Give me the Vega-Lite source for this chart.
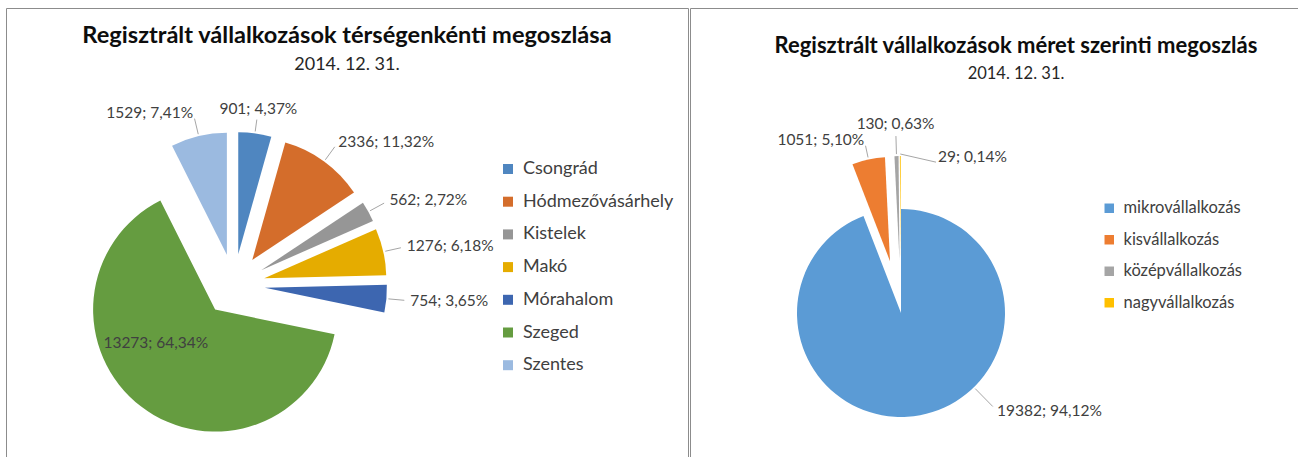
{
  "$schema": "https://vega.github.io/schema/vega-lite/v6.json",
  "padding": {"left": 5, "top": 7, "right": 0, "bottom": 0},
  "spacing": 0,
  "background": "white",
  "config": {
    "view": {"stroke": "#8c8c8c", "strokeWidth": 1},
    "font": "Lato",
    "text": {"font": "Lato", "fontSize": 15.5, "color": "#404040"}
  },
  "datasets": {
    "regions": [
      {"region": "Csongrád", "value": 901, "pct": 4.37},
      {"region": "Hódmezővásárhely", "value": 2336, "pct": 11.32},
      {"region": "Kistelek", "value": 562, "pct": 2.72},
      {"region": "Makó", "value": 1276, "pct": 6.18},
      {"region": "Mórahalom", "value": 754, "pct": 3.65},
      {"region": "Szeged", "value": 13273, "pct": 64.34},
      {"region": "Szentes", "value": 1529, "pct": 7.41}
    ],
    "sizes": [
      {"size": "mikrovállalkozás", "value": 19382, "pct": 94.12},
      {"size": "kisvállalkozás", "value": 1051, "pct": 5.10},
      {"size": "középvállalkozás", "value": 130, "pct": 0.63},
      {"size": "nagyvállalkozás", "value": 29, "pct": 0.14}
    ]
  },
  "resolve": {"scale": {"x": "independent", "y": "independent", "color": "independent"}, "legend": {"color": "independent"}},
  "hconcat": [
    {
      "width": 682,
      "height": 449,
      "title": {
        "text": "Regisztrált vállalkozások térségenkénti megoszlása",
        "subtitle": "2014. 12. 31.",
        "anchor": "middle",
        "offset": -66,
        "font": "Lato",
        "fontSize": 23.6,
        "fontWeight": "bold",
        "color": "#0d0d0d",
        "subtitleFont": "Lato",
        "subtitleFontSize": 18,
        "subtitleColor": "#262626",
        "subtitlePadding": 8
      },
      "data": {"name": "regions"},
      "transform": [
        {"window": [{"op": "sum", "field": "value", "as": "cum"}], "frame": [null, 0]},
        {"joinaggregate": [{"op": "sum", "field": "value", "as": "total"}]},
        {"calculate": "2*PI*(datum.cum-datum.value)/datum.total", "as": "a0"},
        {"calculate": "2*PI*datum.cum/datum.total", "as": "a1"},
        {"calculate": "(datum.a0+datum.a1)/2", "as": "mid"},
        {"calculate": "datum.value/datum.total>0.5", "as": "big"},
        {"calculate": "31*sin(datum.mid)", "as": "ox"},
        {"calculate": "-31*cos(datum.mid)", "as": "oy"},
        {"calculate": "datum.big?datum.a0+0.6*(datum.a1-datum.a0):datum.mid", "as": "lt"},
        {"calculate": "datum.big?'c':(sin(datum.lt)>0.3?'l':(sin(datum.lt)<-0.1?'r':'c'))", "as": "side"},
        {"calculate": "datum.big?68:(datum.side=='c'?147:146)", "as": "lr"},
        {"calculate": "datum.ox+datum.lr*sin(datum.lt)", "as": "lx"},
        {"calculate": "datum.oy-datum.lr*cos(datum.lt)", "as": "ly"},
        {"calculate": "datum.ox+124*sin(datum.mid)", "as": "k0x"},
        {"calculate": "datum.oy-124*cos(datum.mid)", "as": "k0y"},
        {"calculate": "datum.ox+(datum.lr-(datum.side=='c'?11:6))*sin(datum.lt)", "as": "k1x"},
        {"calculate": "datum.oy-(datum.lr-(datum.side=='c'?11:6))*cos(datum.lt)", "as": "k1y"},
        {"calculate": "datum.value+'; '+replace(format(datum.pct,'.2f'),'.',',')+'%'", "as": "label"}
      ],
      "layer": [
        {
          "mark": {"type": "arc", "radius": 122, "strokeWidth": 0},
          "encoding": {
            "theta": {"field": "a0", "type": "quantitative", "scale": null},
            "theta2": {"field": "a1"},
            "x": {"field": "ox", "type": "quantitative", "scale": {"domain": [-100, 100], "range": [128, 328], "nice": false, "zero": false}, "axis": null},
            "y": {"field": "oy", "type": "quantitative", "scale": {"domain": [-100, 100], "range": [177, 377], "nice": false, "zero": false}, "axis": null},
            "color": {
              "field": "region",
              "type": "nominal",
              "sort": null,
              "scale": {"range": ["#4f86c0", "#d46d2b", "#969696", "#e5ac00", "#3d66b0", "#659c40", "#9bbae0"]},
              "legend": {
                "orient": "none",
                "legendX": 493,
                "legendY": 152,
                "title": null,
                "symbolType": "square",
                "symbolSize": 100,
                "symbolStrokeWidth": 0,
                "labelFont": "Lato",
                "labelFontSize": 18,
                "labelColor": "#404040",
                "labelOffset": 6,
                "rowPadding": 14.7,
                "padding": 0
              }
            }
          }
        },
        {
          "mark": {"type": "rule", "stroke": "#a6a6a6", "strokeWidth": 1},
          "transform": [{"filter": "!datum.big"}],
          "encoding": {
            "x": {"field": "k0x", "type": "quantitative", "scale": {"domain": [-100, 100], "range": [128, 328], "nice": false, "zero": false}, "axis": null},
            "y": {"field": "k0y", "type": "quantitative", "scale": {"domain": [-100, 100], "range": [177, 377], "nice": false, "zero": false}, "axis": null},
            "x2": {"field": "k1x"},
            "y2": {"field": "k1y"}
          }
        },
        {
          "mark": {"type": "text", "align": "left", "baseline": "middle"},
          "transform": [{"filter": "datum.side=='l'"}],
          "encoding": {
            "x": {"field": "lx", "type": "quantitative", "scale": {"domain": [-100, 100], "range": [128, 328], "nice": false, "zero": false}, "axis": null},
            "y": {"field": "ly", "type": "quantitative", "scale": {"domain": [-100, 100], "range": [177, 377], "nice": false, "zero": false}, "axis": null},
            "text": {"field": "label"}
          }
        },
        {
          "mark": {"type": "text", "align": "right", "baseline": "middle"},
          "transform": [{"filter": "datum.side=='r'"}],
          "encoding": {
            "x": {"field": "lx", "type": "quantitative", "scale": {"domain": [-100, 100], "range": [128, 328], "nice": false, "zero": false}, "axis": null},
            "y": {"field": "ly", "type": "quantitative", "scale": {"domain": [-100, 100], "range": [177, 377], "nice": false, "zero": false}, "axis": null},
            "text": {"field": "label"}
          }
        },
        {
          "mark": {"type": "text", "align": "center", "baseline": "middle"},
          "transform": [{"filter": "datum.side=='c'"}],
          "encoding": {
            "x": {"field": "lx", "type": "quantitative", "scale": {"domain": [-100, 100], "range": [128, 328], "nice": false, "zero": false}, "axis": null},
            "y": {"field": "ly", "type": "quantitative", "scale": {"domain": [-100, 100], "range": [177, 377], "nice": false, "zero": false}, "axis": null},
            "text": {"field": "label"}
          }
        }
      ]
    },
    {
      "width": 610,
      "height": 449,
      "title": {
        "text": "Regisztrált vállalkozások méret szerinti megoszlás",
        "subtitle": "2014. 12. 31.",
        "anchor": "middle",
        "offset": -75,
        "dx": 21,
        "font": "Lato",
        "fontSize": 22,
        "fontWeight": "bold",
        "color": "#0d0d0d",
        "subtitleFont": "Lato",
        "subtitleFontSize": 16.5,
        "subtitleColor": "#262626",
        "subtitlePadding": 8
      },
      "data": {"name": "sizes"},
      "transform": [
        {"window": [{"op": "sum", "field": "value", "as": "cum"}, {"op": "lag", "field": "value", "as": "prev"}], "frame": [null, 0]},
        {"joinaggregate": [{"op": "sum", "field": "value", "as": "total"}]},
        {"calculate": "2*PI*(datum.cum-datum.value)/datum.total", "as": "a0"},
        {"calculate": "2*PI*datum.cum/datum.total", "as": "a1"},
        {"calculate": "(datum.a0+datum.a1)/2", "as": "mid"},
        {"calculate": "datum.value/datum.total>0.5", "as": "big"},
        {"calculate": "!datum.big && datum.prev!=null && datum.value/datum.total<0.01 && datum.prev/datum.total<0.01", "as": "tinyPair"},
        {"calculate": "datum.big?0:53", "as": "ex"},
        {"calculate": "datum.ex*sin(datum.mid)", "as": "ox"},
        {"calculate": "-datum.ex*cos(datum.mid)", "as": "oy"},
        {"calculate": "datum.big?datum.a0+0.4*(datum.a1-datum.a0):(datum.tinyPair?datum.mid+0.35:datum.mid)", "as": "lt"},
        {"calculate": "sin(datum.lt)>0.1?'l':(sin(datum.lt)<-0.1?'r':'c')", "as": "side"},
        {"calculate": "datum.big?137:(datum.tinyPair?110:(datum.side=='c'?136:124))", "as": "lr"},
        {"calculate": "datum.ox+datum.lr*sin(datum.lt)", "as": "lx"},
        {"calculate": "datum.oy-datum.lr*cos(datum.lt)", "as": "ly"},
        {"calculate": "datum.big?datum.lt:datum.mid", "as": "km"},
        {"calculate": "datum.ox+106*sin(datum.km)", "as": "k0x"},
        {"calculate": "datum.oy-106*cos(datum.km)", "as": "k0y"},
        {"calculate": "datum.ox+(datum.lr-(datum.side=='c'?12:6))*sin(datum.lt)", "as": "k1x"},
        {"calculate": "datum.oy-(datum.lr-(datum.side=='c'?12:6))*cos(datum.lt)", "as": "k1y"},
        {"calculate": "datum.value+'; '+replace(format(datum.pct,'.2f'),'.',',')+'%'", "as": "label"}
      ],
      "layer": [
        {
          "mark": {"type": "arc", "radius": 104, "strokeWidth": 0},
          "encoding": {
            "theta": {"field": "a0", "type": "quantitative", "scale": null},
            "theta2": {"field": "a1"},
            "x": {"field": "ox", "type": "quantitative", "scale": {"domain": [-100, 100], "range": [111, 311], "nice": false, "zero": false}, "axis": null},
            "y": {"field": "oy", "type": "quantitative", "scale": {"domain": [-100, 100], "range": [205, 405], "nice": false, "zero": false}, "axis": null},
            "color": {
              "field": "size",
              "type": "nominal",
              "sort": null,
              "scale": {"range": ["#5b9bd5", "#ed7d31", "#a5a5a5", "#ffc000"]},
              "legend": {
                "orient": "none",
                "legendX": 411,
                "legendY": 192,
                "title": null,
                "symbolType": "square",
                "symbolSize": 90,
                "symbolStrokeWidth": 0,
                "labelFont": "Lato",
                "labelFontSize": 16.5,
                "labelColor": "#404040",
                "labelOffset": 6,
                "rowPadding": 14.5,
                "padding": 0
              }
            }
          }
        },
        {
          "mark": {"type": "rule", "stroke": "#a6a6a6", "strokeWidth": 1},
          "encoding": {
            "x": {"field": "k0x", "type": "quantitative", "scale": {"domain": [-100, 100], "range": [111, 311], "nice": false, "zero": false}, "axis": null},
            "y": {"field": "k0y", "type": "quantitative", "scale": {"domain": [-100, 100], "range": [205, 405], "nice": false, "zero": false}, "axis": null},
            "x2": {"field": "k1x"},
            "y2": {"field": "k1y"}
          }
        },
        {
          "mark": {"type": "text", "align": "left", "baseline": "middle"},
          "transform": [{"filter": "datum.side=='l'"}],
          "encoding": {
            "x": {"field": "lx", "type": "quantitative", "scale": {"domain": [-100, 100], "range": [111, 311], "nice": false, "zero": false}, "axis": null},
            "y": {"field": "ly", "type": "quantitative", "scale": {"domain": [-100, 100], "range": [205, 405], "nice": false, "zero": false}, "axis": null},
            "text": {"field": "label"}
          }
        },
        {
          "mark": {"type": "text", "align": "right", "baseline": "middle"},
          "transform": [{"filter": "datum.side=='r'"}],
          "encoding": {
            "x": {"field": "lx", "type": "quantitative", "scale": {"domain": [-100, 100], "range": [111, 311], "nice": false, "zero": false}, "axis": null},
            "y": {"field": "ly", "type": "quantitative", "scale": {"domain": [-100, 100], "range": [205, 405], "nice": false, "zero": false}, "axis": null},
            "text": {"field": "label"}
          }
        },
        {
          "mark": {"type": "text", "align": "center", "baseline": "middle"},
          "transform": [{"filter": "datum.side=='c'"}],
          "encoding": {
            "x": {"field": "lx", "type": "quantitative", "scale": {"domain": [-100, 100], "range": [111, 311], "nice": false, "zero": false}, "axis": null},
            "y": {"field": "ly", "type": "quantitative", "scale": {"domain": [-100, 100], "range": [205, 405], "nice": false, "zero": false}, "axis": null},
            "text": {"field": "label"}
          }
        }
      ]
    }
  ]
}
